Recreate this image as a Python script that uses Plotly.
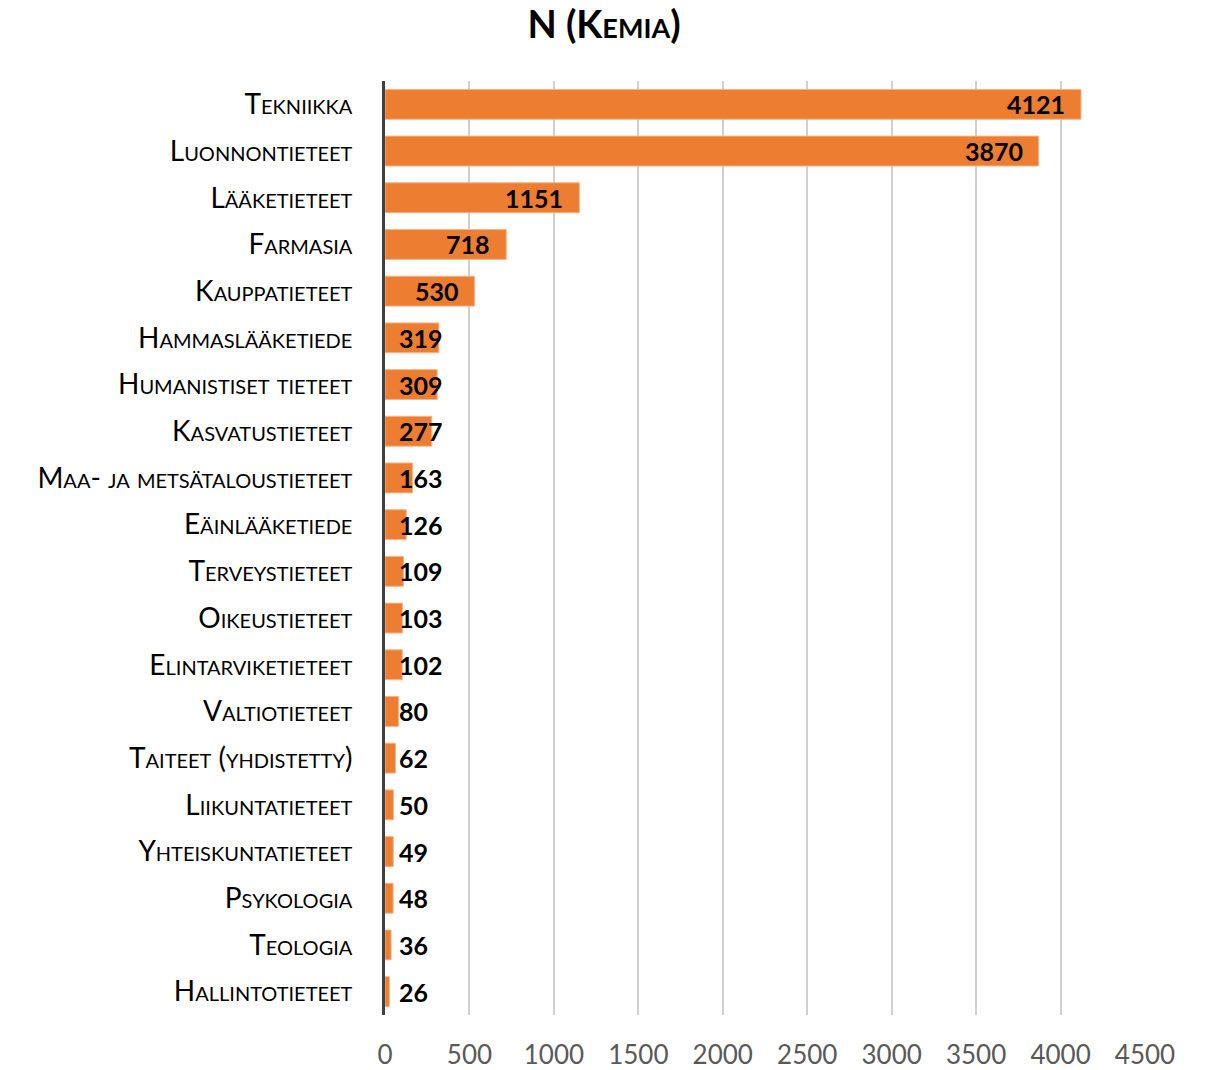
import plotly.graph_objects as go

categories = ["Tekniikka", "Luonnontieteet", "Lääketieteet", "Farmasia", "Kauppatieteet",
              "Hammaslääketiede", "Humanistiset tieteet", "Kasvatustieteet",
              "Maa- ja metsätaloustieteet", "Eäinlääketiede", "Terveystieteet",
              "Oikeustieteet", "Elintarviketieteet", "Valtiotieteet", "Taiteet (yhdistetty)",
              "Liikuntatieteet", "Yhteiskuntatieteet", "Psykologia", "Teologia", "Hallintotieteet"]
values = [4121, 3870, 1151, 718, 530, 319, 309, 277, 163, 126, 109, 103, 102, 80, 62, 50, 49, 48, 36, 26]
x_ticks = [0, 500, 1000, 1500, 2000, 2500, 3000, 3500, 4000, 4500]
title = "N (Kemia)"

FONT = "Lato"
fig = go.Figure(go.Bar(
    x=values, y=categories, orientation="h",
    marker=dict(color="#ED7D31", line=dict(color="#F6B58A", width=1)),
    hoverinfo="x+y",
))

annotations = []
for c, v in zip(categories, values):
    if v >= 400:
        annotations.append(dict(x=v, y=c, text=f"<b>{v}</b>", xanchor="right", xshift=-14,
                                showarrow=False, font=dict(family=FONT, size=25, color="black")))
    else:
        annotations.append(dict(x=0, y=c, text=f"<b>{v}</b>", xanchor="left", xshift=12,
                                showarrow=False, font=dict(family=FONT, size=25, color="black")))

fig.update_layout(
    width=1208, height=1070,
    paper_bgcolor="white", plot_bgcolor="white",
    margin=dict(l=385, r=63, t=81, b=55, autoexpand=False),
    bargap=0.36,
    showlegend=False,
    title=dict(text=f"<b>{title}</b>", x=0.5, xanchor="center", y=0.977, yanchor="middle",
               font=dict(family=FONT, size=38, color="black", variant="small-caps")),
    annotations=annotations,
)
fig.update_xaxes(
    range=[0, 4500], tickvals=x_ticks, ticktext=[str(t) for t in x_ticks],
    showgrid=True, gridcolor="#D0D0D0", gridwidth=1.5, zeroline=False,
    ticks="", ticklabelstandoff=22, automargin=False,
    tickfont=dict(family=FONT, size=26, color="#595959"),
)
fig.update_yaxes(
    autorange="reversed", showline=True, linecolor="#404040", linewidth=3,
    ticks="", ticklabelstandoff=24, showgrid=False, automargin=False,
    tickfont=dict(family=FONT, size=28, color="black", variant="small-caps"),
)
fig.write_html("out.html", config={"displayModeBar": False},
               post_script="document.body.style.margin='0';")
